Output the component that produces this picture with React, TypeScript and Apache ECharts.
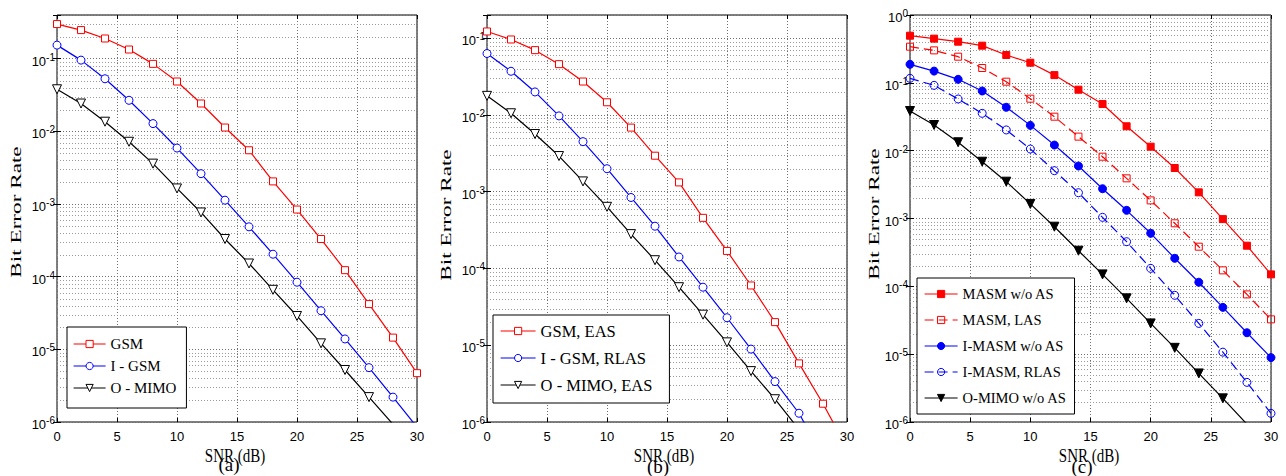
import React, { useEffect, useRef } from "react";
import * as echarts from "echarts";

// SNR grid (dB) shared by every curve
const snrDb = [0, 2, 4, 6, 8, 10, 12, 14, 16, 18, 20, 22, 24, 26, 28, 30];

// (a) BER without antenna selection
const gsmA = [0.30, 0.248, 0.19, 0.134, 0.085, 0.0486, 0.0242, 0.0113, 0.0055, 0.00205, 8.4e-4, 3.3e-4, 1.23e-4, 4.2e-5, 1.45e-5, 4.7e-6];
const iGsmA = [0.154, 0.0957, 0.053, 0.0268, 0.0128, 0.0059, 0.00262, 0.00113, 4.86e-4, 2.04e-4, 8.4e-5, 3.4e-5, 1.39e-5, 5.6e-6, 2.2e-6, 8.5e-7];
const oMimoA = [0.038, 0.0242, 0.0136, 0.0072, 0.0036, 0.00164, 7.66e-4, 3.3e-4, 1.52e-4, 6.6e-5, 2.88e-5, 1.21e-5, 5.2e-6, 2.2e-6, 9.3e-7, null];

// (b) BER with antenna selection
const gsmB = [0.122, 0.096, 0.0697, 0.0458, 0.0272, 0.0146, 0.00683, 0.00294, 0.00132, 4.56e-4, 1.69e-4, 6.0e-5, 2.0e-5, 5.8e-6, 1.73e-6, 4.6e-7];
const iGsmB = [0.063, 0.037, 0.0199, 0.0097, 0.00448, 0.00199, 8.4e-4, 3.55e-4, 1.41e-4, 5.7e-5, 2.28e-5, 8.9e-6, 3.36e-6, 1.3e-6, 3.5e-7, null];
const oMimoB = [0.0177, 0.0105, 0.00564, 0.00291, 0.00136, 6.35e-4, 2.8e-4, 1.28e-4, 5.7e-5, 2.5e-5, 1.09e-5, 4.6e-6, 1.98e-6, 8e-7, null, null];

// (c) multi-antenna spatial modulation
const masmNoAs = [0.495, 0.448, 0.404, 0.353, 0.257, 0.198, 0.130, 0.0792, 0.0488, 0.0229, 0.01145, 0.00555, 0.00243, 9.8e-4, 3.97e-4, 1.5e-4];
const masmLas = [0.341, 0.301, 0.243, 0.1655, 0.104, 0.0584, 0.0317, 0.0161, 0.00815, 0.00391, 0.00185, 8.5e-4, 3.84e-4, 1.72e-4, 7.6e-5, 3.26e-5];
const iMasmNoAs = [0.1875, 0.149, 0.1127, 0.0758, 0.0436, 0.0236, 0.0121, 0.00594, 0.00275, 0.00132, 6.05e-4, 2.59e-4, 1.15e-4, 4.9e-5, 2.07e-5, 8.9e-6];
const iMasmRlas = [0.1165, 0.0918, 0.0578, 0.0355, 0.0202, 0.01057, 0.00507, 0.0024, 0.00104, 4.55e-4, 1.84e-4, 7.37e-5, 2.84e-5, 1.07e-5, 3.84e-6, 1.34e-6];
const oMimoC = [0.0384, 0.0239, 0.0133, 0.00687, 0.00349, 0.00164, 7.57e-4, 3.35e-4, 1.5e-4, 6.65e-5, 2.84e-5, 1.24e-5, 5.2e-6, 2.23e-6, 9.3e-7, null];

// Axis ranges
const snrTicks = [0, 5, 10, 15, 20, 25, 30];
const berMin = 1e-6;
const berMax = [0.4, 0.2, 1];
const panelCaptions = ["(a)", "(b)", "(c)"];
const minorMultipliers = [2, 3, 4, 5, 6, 7, 8, 9];
const decadeExponents = [-6, -5, -4, -3, -2, -1];

const SERIF = "'Liberation Serif', 'DejaVu Serif', serif";
const SANS = "'Liberation Sans Narrow', 'Liberation Sans', Arial, sans-serif";
const RED = "#ff0000";
const BLUE = "#0000ff";
const BLACK = "#000000";

const grids = [
  { left: 57, top: 15, width: 360, height: 407 },
  { left: 487, top: 15, width: 360, height: 407 },
  { left: 910, top: 15, width: 361, height: 407 },
];

function minorLevels(yMax: number): number[] {
  const out: number[] = [];
  for (const e of decadeExponents) {
    for (const m of minorMultipliers) {
      const v = m * Math.pow(10, e);
      if (v < yMax * 0.999) out.push(v);
    }
  }
  return out;
}

function pairs(values: (number | null)[]) {
  return snrDb.map((x, i) => [x, values[i]]);
}

type MarkerKind = "square" | "circle" | "triangle";

function curve(
  name: string,
  values: (number | null)[],
  panel: number,
  color: string,
  marker: MarkerKind,
  filled: boolean,
  dashed: boolean,
  hollowFill: string
) {
  const symbol = marker === "square" ? "rect" : marker === "circle" ? "circle" : "triangle";
  const size = marker === "square" ? 7 : marker === "circle" ? 8 : 9;
  return {
    type: "line",
    name,
    xAxisIndex: panel * 2,
    yAxisIndex: panel * 2,
    data: pairs(values),
    symbol,
    symbolSize: size,
    symbolRotate: marker === "triangle" ? 180 : 0,
    showSymbol: true,
    connectNulls: false,
    z: 3,
    lineStyle: { color, width: 1.2, type: dashed ? [9, 5] : "solid" },
    itemStyle: {
      color: filled ? color : hollowFill,
      borderColor: color,
      borderWidth: 1,
    },
    emphasis: { disabled: true },
  };
}

// Dotted minor grid (2..9 within each decade), one pixel-snapped line per level
function minorGrid(panel: number) {
  const x0 = snrTicks[0];
  const x1 = snrTicks[snrTicks.length - 1];
  return {
    type: "custom",
    name: `minor-grid-${panel}`,
    xAxisIndex: panel * 2,
    yAxisIndex: panel * 2,
    silent: true,
    z: 1,
    data: minorLevels(berMax[panel]).map((v) => [x0, v]),
    renderItem: (_params: any, api: any) => {
      const v = api.value(1);
      const a = api.coord([x0, v]);
      const b = api.coord([x1, v]);
      const y = Math.round(a[1]) + 0.5;
      return {
        type: "line",
        silent: true,
        shape: { x1: a[0], y1: y, x2: b[0], y2: y },
        style: { stroke: "#9a9a9a", lineWidth: 1, lineDash: [1, 2] },
      };
    },
  };
}

const superscriptLabel = {
  margin: 2,
  formatter: (v: number) => {
    const e = Math.log10(v);
    const r = Math.round(e);
    if (Math.abs(e - r) > 1e-6) return "";
    return `{b|10}{s|${r}}`;
  },
  rich: {
    b: { fontFamily: SANS, fontSize: 13, lineHeight: 13, padding: [5, 0, 0, 0], color: "#000" },
    s: { fontFamily: SANS, fontSize: 10, lineHeight: 10, padding: [0, 0, 0, 0], verticalAlign: "top", color: "#000" },
  },
};

const majorGrid = { show: true, lineStyle: { color: "#6e6e6e", type: [1, 2], width: 1 } };

function axesFor(panel: number) {
  const tick = { show: true, inside: true, length: 4, lineStyle: { color: "#000", width: 1 } };
  const x = [
    {
      type: "value",
      gridIndex: panel,
      min: snrTicks[0],
      max: snrTicks[snrTicks.length - 1],
      interval: snrTicks[1] - snrTicks[0],
      axisLine: { show: false },
      axisTick: tick,
      axisLabel: { fontFamily: SANS, fontSize: 13, color: "#000", margin: 8 },
      splitLine: majorGrid,
    },
    {
      type: "value",
      gridIndex: panel,
      position: "top",
      min: snrTicks[0],
      max: snrTicks[snrTicks.length - 1],
      interval: snrTicks[1] - snrTicks[0],
      axisLine: { show: false },
      axisTick: tick,
      axisLabel: { show: false },
      splitLine: { show: false },
    },
  ];
  const y = [
    {
      type: "log",
      logBase: 10,
      gridIndex: panel,
      min: berMin,
      max: berMax[panel],
      splitNumber: 6,
      axisLine: { show: false },
      axisTick: tick,
      axisLabel: superscriptLabel,
      splitLine: majorGrid,
    },
    {
      type: "log",
      logBase: 10,
      gridIndex: panel,
      position: "right",
      min: berMin,
      max: berMax[panel],
      splitNumber: 6,
      axisLine: { show: false },
      axisTick: tick,
      axisLabel: { show: false },
      splitLine: { show: false },
    },
  ];
  return { x, y };
}

function legendFor(
  names: string[],
  left: number,
  top: number,
  fontSize: number,
  lineHeight: number,
  itemWidth: number,
  itemGap: number,
  padding: number[]
) {
  return {
    data: names,
    orient: "vertical",
    left,
    top,
    itemWidth,
    itemHeight: 9,
    itemGap,
    padding,
    selectedMode: false,
    backgroundColor: "#fff",
    borderColor: "#000",
    borderWidth: 1,
    borderRadius: 0,
    itemStyle: { borderWidth: 1 },
    lineStyle: { width: 1.2 },
    textStyle: { fontFamily: SERIF, fontSize, lineHeight, color: "#000" },
  };
}

export default function App() {
  const ref = useRef<HTMLDivElement>(null);

  useEffect(() => {
    if (!ref.current) return;
    const chart = echarts.init(ref.current, undefined, { renderer: "svg" });

    const xAxes: any[] = [];
    const yAxes: any[] = [];
    [0, 1, 2].forEach((p) => {
      const a = axesFor(p);
      xAxes.push(...a.x);
      yAxes.push(...a.y);
    });

    const hollow = "#ffffff";
    const clear = "rgba(255,255,255,0)";

    const series = [
      minorGrid(0),
      minorGrid(1),
      minorGrid(2),

      curve("GSM", gsmA, 0, RED, "square", false, false, hollow),
      curve("I - GSM", iGsmA, 0, BLUE, "circle", false, false, hollow),
      curve("O - MIMO", oMimoA, 0, BLACK, "triangle", false, false, hollow),

      curve("GSM, EAS", gsmB, 1, RED, "square", false, false, hollow),
      curve("I - GSM, RLAS", iGsmB, 1, BLUE, "circle", false, false, hollow),
      curve("O - MIMO, EAS", oMimoB, 1, BLACK, "triangle", false, false, hollow),

      curve("MASM w/o AS", masmNoAs, 2, RED, "square", true, false, hollow),
      curve("MASM, LAS", masmLas, 2, RED, "square", false, true, clear),
      curve("I-MASM w/o AS", iMasmNoAs, 2, BLUE, "circle", true, false, hollow),
      curve("I-MASM, RLAS", iMasmRlas, 2, BLUE, "circle", false, true, clear),
      curve("O-MIMO w/o AS", oMimoC, 2, BLACK, "triangle", true, false, hollow),
    ];

    const yNamePos = [
      { x: 16, y: 212 },
      { x: 446, y: 215 },
      { x: 874, y: 214 },
    ];
    const xNamePos = [
      { x: 235, y: 456 },
      { x: 664, y: 456 },
      { x: 1089, y: 456 },
    ];
    const captionPos = [
      { x: 229, y: 464 },
      { x: 658, y: 466 },
      { x: 1082, y: 466 },
    ];

    const graphic: any[] = [];
    [0, 1, 2].forEach((p) => {
      graphic.push({
        type: "text",
        x: yNamePos[p].x,
        y: yNamePos[p].y,
        rotation: Math.PI / 2,
        scaleX: 1.6,
        silent: true,
        style: {
          text: "Bit Error Rate",
          fontFamily: SERIF,
          fontSize: 14.5,
          fill: "#000",
          align: "center",
          verticalAlign: "middle",
          textAlign: "center",
          textVerticalAlign: "middle",
        },
      });
      graphic.push({
        type: "text",
        x: xNamePos[p].x,
        y: xNamePos[p].y,
        scaleY: 1.3,
        silent: true,
        style: {
          text: "SNR (dB)",
          fontFamily: SERIF,
          fontSize: 15,
          fill: "#000",
          align: "center",
          verticalAlign: "middle",
          textAlign: "center",
          textVerticalAlign: "middle",
        },
      });
      graphic.push({
        type: "text",
        x: captionPos[p].x,
        y: captionPos[p].y,
        silent: true,
        style: {
          text: panelCaptions[p],
          fontFamily: SERIF,
          fontSize: 19,
          fill: "#000",
          align: "center",
          verticalAlign: "middle",
          textAlign: "center",
          textVerticalAlign: "middle",
        },
      });
    });

    chart.setOption({
      animation: false,
      backgroundColor: "#fff",
      grid: grids.map((g) => ({
        ...g,
        show: true,
        borderColor: "#000",
        borderWidth: 1,
        backgroundColor: "transparent",
        containLabel: false,
      })),
      xAxis: xAxes,
      yAxis: yAxes,
      legend: [
        legendFor(["GSM", "I - GSM", "O - MIMO"], 67, 327, 15, 16, 32, 6, [9, 10, 12, 6]),
        legendFor(["GSM, EAS", "I - GSM, RLAS", "O - MIMO, EAS"], 493, 315, 16.5, 18, 35, 9, [7, 17, 9, 7]),
        legendFor(
          ["MASM w/o AS", "MASM, LAS", "I-MASM w/o AS", "I-MASM, RLAS", "O-MIMO w/o AS"],
          917,
          278,
          14.5,
          16,
          33,
          10,
          [8, 8, 8, 7]
        ),
      ],
      graphic,
      series,
    });

    return () => chart.dispose();
  }, []);

  return (
    <div
      ref={ref}
      style={{ position: "fixed", left: 0, top: 0, width: 1286, height: 476, background: "#fff" }}
    />
  );
}
